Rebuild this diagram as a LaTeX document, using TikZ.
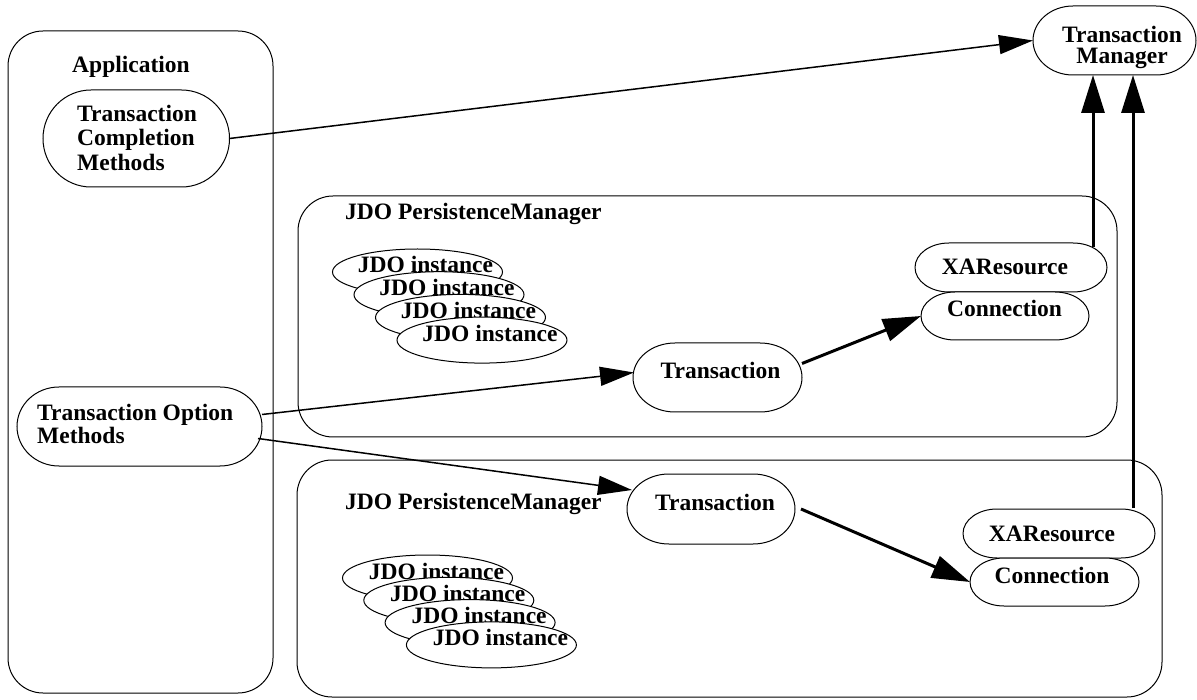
\documentclass[tikz,border=0pt]{standalone}
\usepackage{fontspec}
\setmainfont{Liberation Serif}
\usetikzlibrary{arrows.meta,shapes.geometric,calc}
\newcommand\stadium[2]{%
  \draw[pill] let \p1=($(#1.north)-(#1.south)$) in
    ($(#1.north east)+(-#2,0)$) arc[start angle=90,end angle=-90,x radius=#2pt,y radius={0.5*\y1}]
    -- ($(#1.south west)+(#2,0)$) arc[start angle=270,end angle=90,x radius=#2pt,y radius={0.5*\y1}]
    -- cycle;}
\begin{document}
\begin{tikzpicture}[x=1pt,y=-1pt,
  txt/.style={font=\bfseries\fontsize{23.5}{24.5}\selectfont, inner sep=0pt},
  frame/.style={draw, line width=1pt, rounded corners=35pt, inner sep=0pt},
  pillbox/.style={inner sep=0pt, outer sep=0pt},
  pill/.style={draw, fill=white, line width=1pt},
  jdo/.style={draw, fill=white, ellipse, line width=1pt, inner sep=0pt, minimum width=170pt, minimum height=46pt},
  thin/.style={line width=1.5pt, -{Triangle[length=34pt,width=19pt]}},
  thick/.style={line width=3pt, -{Triangle[length=38pt,width=23pt]}}
]
\useasboundingbox (0,0) rectangle (1197,700);

% frames
\node[frame, minimum width=265pt, minimum height=662pt] (app) at (140.5,362) {};
\node[frame, minimum width=819pt, minimum height=241pt] (pm1) at (707.5,316.5) {};
\node[frame, minimum width=865pt, minimum height=237pt] (pm2) at (729.5,578.5) {};

\node[txt, anchor=base] (apptxt) at (131,73) {Application};
\node[txt, anchor=base west] (pm1txt) at (345,220) {JDO PersistenceManager};
\node[txt, anchor=base west] (pm2txt) at (345,509) {JDO PersistenceManager};

% application nodes
\node[pillbox, minimum width=186.5pt, minimum height=97pt] (tcm) at (136.25,138.5) {};
\stadium{tcm}{48}
\node[txt, anchor=north west, align=left] (tcmtxt) at (77,104.8) {Transaction\\Completion\\Methods};
\node[pillbox, minimum width=245pt, minimum height=79pt] (tom) at (139.5,426.5) {};
\stadium{tom}{42}
\node[txt, anchor=north west, align=left] (tomtxt) at (37,403.8) {Transaction Option\\[-1.5pt]Methods};

% transaction manager
\node[pillbox, minimum width=163pt, minimum height=69pt] (tm) at (1114.5,40.5) {};
\stadium{tm}{40}
\node[txt, anchor=north, align=center] (tmtxt) at (1122,25.8) {Transaction\\[-3pt]Manager};

% JDO instances PM1
\foreach \k in {0,1,2,3}{
  \node[jdo] (ja\k) at ({417.5+21.5*\k},{272+22.7*\k}) {};
  \node[txt, anchor=base] (jat\k) at ($(ja\k)+(8,1)$) {JDO instance};
}
% JDO instances PM2
\foreach \k in {0,1,2,3}{
  \node[jdo] (jb\k) at ({427.5+21.3*\k},{578+22.3*\k}) {};
  \node[txt, anchor=base] (jbt\k) at ($(jb\k)+(9,1)$) {JDO instance};
}

% transactions
\node[pillbox, minimum width=169pt, minimum height=69pt] (t1) at (717.5,377.5) {};
\stadium{t1}{42}
\node[txt, anchor=base] (t1txt) at (720.5,379) {Transaction};
\node[pillbox, minimum width=168pt, minimum height=70pt] (t2) at (711,509) {};
\stadium{t2}{42}
\node[txt, anchor=base] (t2txt) at (715,510) {Transaction};

% resources / connections
\node[pillbox, minimum width=192pt, minimum height=49pt] (x1) at (1011,267.5) {};
\stadium{x1}{34}
\node[txt, anchor=base] (x1txt) at (1005,275) {XAResource};
\node[pillbox, minimum width=168pt, minimum height=48pt] (c1) at (1005,316) {};
\stadium{c1}{34}
\node[txt, anchor=base] (c1txt) at (1004.5,317) {Connection};
\node[pillbox, minimum width=192pt, minimum height=49pt] (x2) at (1059,533.5) {};
\stadium{x2}{34}
\node[txt, anchor=base] (x2txt) at (1052,541) {XAResource};
\node[pillbox, minimum width=169pt, minimum height=48pt] (c2) at (1054.5,582) {};
\stadium{c2}{34}
\node[txt, anchor=base] (c2txt) at (1052,583) {Connection};

% connectors
\draw[thin] (tcm.east) -- (tm.west);
\draw[thin] ($(tom.east)+(0,-12)$) -- ($(t1.west)+(1,-5)$);
\draw[thin] ($(tom.east)+(-4,12)$) -- ($(t2.west)+(5,-19)$);
\draw[thick] ($(t1.east)+(0,-14)$) -- (c1.west);
\draw[thick] ($(t2.east)+(6,0)$) -- (c2.west);
\coordinate (v1) at (1093,247);
\coordinate (v2) at (1133,508);
\draw[thick] (v1) -- (v1 |- tm.south);
\draw[thick] (v2) -- (v2 |- tm.south);
\end{tikzpicture}
\end{document}
